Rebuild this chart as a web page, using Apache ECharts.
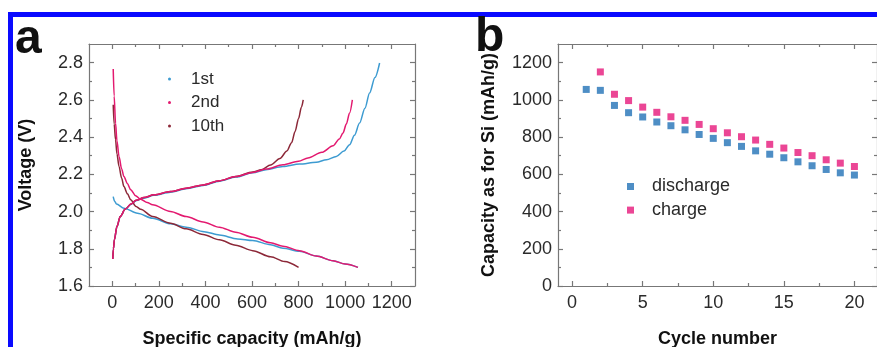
<!DOCTYPE html>
<html>
<head>
<meta charset="utf-8">
<script src="https://cdn.jsdelivr.net/npm/echarts@6/dist/echarts.min.js"></script>
<style>
  html, body { margin: 0; padding: 0; background: #fff; }
  #main { width: 877px; height: 347px; }
</style>
</head>
<body>
<div id="main"></div>
<script>
// ---- panel a: voltage profiles, [capacity mAh/g, voltage V]
const discharge1st = [[4, 2.08], [10, 2.055], [18, 2.041], [50, 2.018], [108, 1.991], [173, 1.964], [251, 1.934],
    [317, 1.916], [394, 1.892], [460, 1.874], [538, 1.853], [603, 1.844], [680, 1.822], [733, 1.803], [804, 1.787],
    [876, 1.761], [948, 1.736], [1000, 1.718], [1055, 1.70]]
const charge1st = [[2, 1.745], [5, 1.80], [9, 1.848], [20, 1.919], [34, 1.973], [56, 2.013], [80, 2.038], [102, 2.058],
    [136, 2.072], [179, 2.087], [250, 2.104], [317, 2.122], [390, 2.14], [460, 2.163], [530, 2.185], [603, 2.208],
    [660, 2.225], [733, 2.242], [804, 2.255], [876, 2.265], [920, 2.278], [962, 2.296], [995, 2.325], [1019, 2.359],
    [1040, 2.41], [1062, 2.475], [1085, 2.555], [1105, 2.637], [1128, 2.72], [1148, 2.798]]
const discharge2nd = [[4, 2.766], [8, 2.62], [14, 2.475], [20, 2.38], [29, 2.296], [40, 2.23], [50, 2.188], [65, 2.15],
    [79, 2.117], [100, 2.085], [122, 2.066], [150, 2.048], [173, 2.036], [250, 2.0], [317, 1.973], [390, 1.944],
    [460, 1.916], [530, 1.889], [603, 1.862], [680, 1.832], [733, 1.814], [804, 1.79], [876, 1.761], [948, 1.736],
    [1000, 1.718], [1055, 1.70]]
const charge2nd = [[2, 1.745], [5, 1.80], [9, 1.848], [20, 1.919], [34, 1.973], [56, 2.013], [80, 2.040], [102, 2.060],
    [136, 2.075], [179, 2.090], [250, 2.107], [317, 2.125], [390, 2.143], [460, 2.166], [530, 2.188], [603, 2.210],
    [660, 2.228], [733, 2.251], [800, 2.27], [840, 2.287], [900, 2.318], [948, 2.353], [975, 2.39], [991, 2.422],
    [1005, 2.47], [1019, 2.529], [1031, 2.60]]
const discharge10th = [[4, 2.574], [8, 2.47], [14, 2.386], [20, 2.31], [29, 2.242], [40, 2.18], [50, 2.134], [65, 2.095],
    [79, 2.063], [102, 2.027], [122, 2.012], [173, 1.973], [250, 1.937], [317, 1.907], [390, 1.877], [460, 1.848],
    [530, 1.819], [603, 1.790], [680, 1.757], [740, 1.731], [800, 1.70]]
const charge10th = [[2, 1.745], [5, 1.80], [9, 1.848], [20, 1.919], [34, 1.973], [56, 2.013], [80, 2.040], [102, 2.060],
    [136, 2.075], [179, 2.090], [250, 2.107], [317, 2.125], [390, 2.143], [460, 2.166], [530, 2.188], [603, 2.212],
    [640, 2.225], [680, 2.25], [720, 2.285], [750, 2.325], [770, 2.37], [785, 2.43], [800, 2.5], [812, 2.56], [820, 2.60]]
const capTicks = [0, 200, 400, 600, 800, 1000, 1200]
const voltTicks = [1.6, 1.8, 2.0, 2.2, 2.4, 2.6, 2.8]

// ---- panel b: capacity vs cycle
const cycles = [1, 2, 3, 4, 5, 6, 7, 8, 9, 10, 11, 12, 13, 14, 15, 16, 17, 18, 19, 20]
const dischargeCap = [1056, 1051, 970, 931, 908, 881, 861, 839, 814, 793, 770, 750, 726, 708, 689, 667, 646, 626, 608, 596]
const chargeCap = [null, 1150, 1030, 996, 961, 933, 909, 890, 868, 845, 823, 802, 784, 761, 741, 717, 700, 678, 660, 642]
const cycleTicks = [0, 5, 10, 15, 20]
const capSiTicks = [0, 200, 400, 600, 800, 1000, 1200]

const FONT = '"Liberation Sans", Arial, sans-serif'
const frame = { color: '#777', width: 1.2 }
const nameStyle = { fontSize: 18, fontWeight: 'bold', color: '#111', fontFamily: FONT }

// main axis (labels + major ticks) plus overlay axes for minor ticks and the mirrored frame side
function buildAxes(dim, gridIndex, min, max, majors, extra) {
    const minors = majors.slice(1).map((v, i) => (v + majors[i]) / 2)
    const sides = dim === 'x' ? ['bottom', 'top'] : ['left', 'right']
    const base = { type: 'value', gridIndex, min, max, splitLine: { show: false } }
    const tick = (vals, len) => ({ show: true, inside: true, length: len, customValues: vals, lineStyle: frame })
    const main = Object.assign({}, base, {
        position: sides[0],
        axisLine: { show: true, onZero: false, lineStyle: frame },
        axisTick: tick(majors, 5),
        axisLabel: {
            customValues: majors, fontSize: 18, color: '#2a2a2a', fontFamily: FONT,
            margin: extra.margin, formatter: extra.formatter || (v => String(v)),
        },
        name: extra.name,
        nameLocation: 'middle',
        nameGap: extra.nameGap,
        nameTextStyle: nameStyle,
    })
    const overlay = (pos, vals, len, line) => Object.assign({}, base, {
        position: pos,
        axisLine: { show: line, onZero: false, lineStyle: frame },
        axisTick: tick(vals, len),
        axisLabel: { show: false },
    })
    return {
        main,
        extras: [
            overlay(sides[0], minors, 3, false),
            overlay(sides[1], majors, 5, true),
            overlay(sides[1], minors, 3, false),
        ],
    }
}

const ax = buildAxes('x', 0, -100, 1300, capTicks, { name: 'Specific capacity (mAh/g)', nameGap: 44, margin: 8 })
const ay = buildAxes('y', 0, 1.6, 2.9, voltTicks, { name: 'Voltage (V)', nameGap: 54, margin: 6, formatter: v => v.toFixed(1) })
const bx = buildAxes('x', 1, -1, 21.6, cycleTicks, { name: 'Cycle number', nameGap: 44, margin: 8 })
const by = buildAxes('y', 1, 0, 1300, capSiTicks, { name: 'Capacity as for Si (mAh/g)', nameGap: 60, margin: 6 })

const curve = (name, data, color) => ({
    name, type: 'line', xAxisIndex: 0, yAxisIndex: 0, data, showSymbol: false,
    smooth: 0.3, smoothMonotone: 'x', color,
    lineStyle: { width: 1.5, color },
})
const c1 = '#3d9bd1', c2 = '#e3196f', c10 = '#8c2838'

const chart = echarts.init(document.getElementById('main'))
chart.setOption({
    animation: false,
    backgroundColor: '#fff',
    textStyle: { fontFamily: FONT },
    grid: [
        { left: 89, top: 44, width: 326, height: 242, outerBoundsMode: 'none', containLabel: false },
        { left: 558, top: 44, width: 319, height: 242, outerBoundsMode: 'none', containLabel: false },
    ],
    xAxis: [ax.main, bx.main, ...ax.extras, ...bx.extras],
    yAxis: [ay.main, by.main, ...ay.extras, ...by.extras],
    legend: [
        {
            data: ['1st', '2nd', '10th'],
            orient: 'vertical',
            left: 168, top: 69, padding: 0,
            icon: 'circle', itemWidth: 3, itemHeight: 3, itemGap: 3.5,
            textStyle: { fontSize: 17, color: '#2a2a2a', lineHeight: 20, padding: [0, 0, 0, 15] },
        },
        {
            data: ['discharge', 'charge'],
            orient: 'vertical',
            left: 627, top: 176.5, padding: 0,
            icon: 'rect', itemWidth: 7, itemHeight: 7, itemGap: 3.6,
            textStyle: { fontSize: 18, color: '#2a2a2a', lineHeight: 20, padding: [0, 0, 0, 13] },
        },
    ],
    graphic: [
        { type: 'rect', shape: { x: 8, y: 12, width: 869, height: 5 }, style: { fill: '#0a0aff' }, silent: true },
        { type: 'rect', shape: { x: 8, y: 12, width: 5, height: 335 }, style: { fill: '#0a0aff' }, silent: true },
        { type: 'text', x: 15, y: 40, style: { text: 'a', font: 'bold 48px ' + FONT, fill: '#111', textVerticalAlign: 'middle' } },
        { type: 'text', x: 475, y: 38, style: { text: 'b', font: 'bold 48px ' + FONT, fill: '#111', textVerticalAlign: 'middle' } },
    ],
    series: [
        curve('1st', discharge1st, c1),
        curve('1st', charge1st, c1),
        curve('10th', discharge10th, c10),
        curve('10th', charge10th, c10),
        curve('2nd', discharge2nd, c2),
        curve('2nd', charge2nd, c2),
        {
            name: 'discharge', type: 'scatter', xAxisIndex: 1, yAxisIndex: 1,
            symbol: 'rect', symbolSize: 7, itemStyle: { color: '#2272b6' },
            data: cycles.map((c, i) => [c, dischargeCap[i]]),
        },
        {
            name: 'charge', type: 'scatter', xAxisIndex: 1, yAxisIndex: 1,
            symbol: 'rect', symbolSize: 7, itemStyle: { color: '#e6187a' },
            data: cycles.map((c, i) => [c, chargeCap[i]]).filter(d => d[1] != null),
        },
    ],
})
</script>
</body>
</html>
